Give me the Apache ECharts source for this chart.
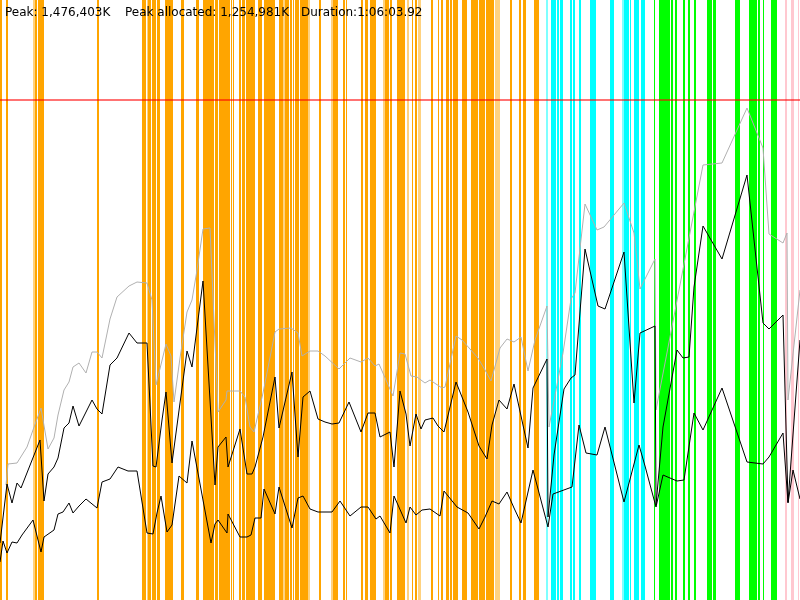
<!DOCTYPE html>
<html>
<head>
<meta charset="utf-8">
<script src="https://cdn.jsdelivr.net/npm/echarts@6/dist/echarts.min.js"></script>
<style>html,body{margin:0;padding:0;background:#fff}#c{width:800px;height:600px}</style>
</head>
<body>
<div id="c"></div>
<script>
// x: time (0..800 = whole run), y: heap units (0..600)
var titleTexts = ["Peak: 1,476,403K", "Peak allocated: 1,254,981K", "Duration:1:06:03.92"];
var peakLevel = 500;

// GC event spans [start, end, light?]
var orangeSpans = [[0,2],[6,8],[33,35,1],[35,37],[38,44],[97,99],[142,146],[147,148,1],[148,151],[152,156],[157,160],[165,173],[181,184],[196,199],
  [203,214],[215,218],[219,230],[231,232],[233,234],[239,241],[242,245],[246,255],[258,262],[264,275],[279,283],[283,285,1],[285,289],[290,292],[293,294],[295,299],[300,308],[308,310,1],[319,321],[331,333,1],[333,338],[343,345],[346,347],[361,363],[365,368],[370,376],[383,385,1],[385,389],[390,392],[397,400],
  [400,405],[407,409,1],[412,413],[415,417],[418,421,1],[431,433],[438,439],[441,443],[446,449],[450,452],[453,458],[462,467],[471,478],[479,485],[486,490],[490,494],[495,500,1],[510,512],[519,521],[523,526],[534,539]];
var cyanSpans = [[546,548,1],[551,556],[557,559],[560,563],[570,572],[573,575],[579,581],[590,596],[610,614],[622,624,1],[624,629],[630,631],[634,639],[641,645]];
var greenSpans = [[654,655],[659,670],[671,673],[675,677],[683,685],[688,690],[694,696],[707,712],[713,716],[735,740],[749,757],[758,760],[763,764],[771,777]];
var pinkSpans = [[785,787],[791,794],[798,799]];

var heapSize = [[6,115],[8,136],[17,137],[27,153],[33,170],[41,192],[48,151],[54,162],[58,185],[64,210],[69,218],[73,233],[79,237],[86,227],[92,248],[97,248],[102,242],[110,281],[117,303],[129,314],[137,318],[147,317],[152,300],[156,215],[166,256],[171,244],[174,198],[180,242],[187,288],[192,300],[197,330],[203,371],[210,372],[218,188],[226,200],[227,209],[240,209],[245,203],[250,173],[254,168],[263,207],[275,268],[279,271],[291,272],[298,267],[302,244],[310,249],[318,249],[325,244],[339,231],[350,242],[361,238],[368,242],[375,234],[379,236],[393,204],[400,247],[405,246],[411,224],[417,223],[425,217],[430,220],[442,212],[445,213],[456,264],[462,260],[478,242],[485,230],[491,219],[500,252],[507,261],[514,258],[521,263],[528,229],[535,260],[547,294],[549,173],[563,247],[571,301],[575,307],[585,396],[597,370],[604,373],[624,397],[634,367],[640,311],[645,321],[655,341],[656,190],[703,435],[722,437],[747,492],[763,452],[769,366],[783,357],[787,367],[788,200],[800,310]];

var usedBefore = [[0,57],[7,116],[12,97],[17,117],[21,112],[40,160],[44,99],[48,126],[54,133],[58,142],[64,172],[69,177],[73,194],[79,174],[92,200],[97,191],[102,186],[110,235],[117,242],[129,267],[137,257],[147,257],[153,134],[156,133],[162,180],[166,208],[172,137],[180,197],[187,249],[192,233],[203,319],[210,200],[215,115],[218,153],[226,163],[228,133],[240,171],[247,126],[252,126],[255,133],[263,163],[275,223],[279,172],[292,228],[298,143],[303,203],[310,209],[318,181],[325,178],[332,176],[339,177],[349,198],[361,168],[368,187],[375,187],[380,163],[390,168],[394,133],[400,209],[406,186],[410,154],[416,186],[421,171],[425,180],[433,182],[438,174],[444,168],[456,218],[468,188],[479,154],[487,141],[492,175],[499,200],[507,191],[514,216],[528,152],[533,212],[547,241],[548,83],[554,145],[564,211],[571,222],[575,225],[585,351],[598,294],[605,291],[624,348],[634,197],[640,267],[655,274],[656,95],[663,173],[677,250],[683,242],[689,243],[694,313],[703,374],[722,341],[747,425],[763,277],[769,271],[783,285],[788,98],[800,260]];

var usedAfter = [[0,38],[3,59],[7,47],[12,58],[17,57],[22,65],[33,80],[41,48],[44,63],[54,70],[58,86],[63,88],[69,97],[73,87],[79,94],[86,101],[97,92],[102,118],[110,121],[118,133],[128,129],[137,129],[147,67],[153,66],[157,87],[161,104],[167,68],[172,75],[179,124],[187,117],[192,159],[211,57],[215,76],[218,80],[227,67],[228,86],[240,63],[247,63],[251,65],[255,82],[261,82],[264,111],[275,86],[279,113],[292,72],[298,102],[303,104],[310,91],[318,88],[325,88],[332,88],[340,99],[350,84],[361,93],[368,93],[376,81],[380,84],[390,67],[394,104],[406,77],[410,93],[416,85],[422,90],[430,91],[440,84],[444,109],[457,93],[468,87],[479,71],[485,83],[492,99],[499,96],[507,108],[514,92],[521,77],[533,130],[548,73],[553,106],[572,113],[579,175],[586,147],[597,145],[605,173],[624,98],[639,155],[645,134],[656,93],[663,125],[677,119],[684,120],[694,187],[703,170],[722,212],[747,138],[763,136],[769,143],[783,167],[788,97],[793,130],[800,101]];

function spanSeries(spans, color) {
  return {
    type: 'line', data: [], silent: true, z: 1, animation: false,
    markArea: {
      silent: true, animation: false,
      data: spans.map(function (s) {
        return [{ xAxis: s[0], itemStyle: { color: color, opacity: s[2] ? 0.5 : 1 } }, { xAxis: s[1] }];
      })
    }
  };
}
function lineSeries(data, color) {
  return { type: 'line', data: data, showSymbol: false, symbol: 'none', z: 3, animation: false, silent: true,
    lineStyle: { color: color, width: 1 } };
}

var chart = echarts.init(document.getElementById('c'), null, { renderer: 'canvas' });
var xs = [5, 125, 301];
chart.setOption({
  animation: false,
  title: titleTexts.map(function (t, i) {
    return { text: t, left: xs[i], top: 7, padding: 0,
      textStyle: { fontFamily: 'DejaVu Sans', fontSize: 12, fontWeight: 'normal', color: '#000' } };
  }),
  grid: { left: 0, right: 0, top: 0, bottom: 0 },
  xAxis: { type: 'value', min: 0, max: 800, show: false },
  yAxis: { type: 'value', min: 0, max: 600, show: false },
  series: [
    spanSeries(orangeSpans, '#FFA500'),
    spanSeries(cyanSpans, '#00FFFF'),
    spanSeries(greenSpans, '#00FF00'),
    spanSeries(pinkSpans, '#FFC8D0'),
    { type: 'line', data: [], z: 2, silent: true,
      markLine: { silent: true, symbol: 'none', label: { show: false }, animation: false,
        lineStyle: { color: 'rgba(255,0,0,0.55)', width: 2, type: 'solid' },
        data: [{ yAxis: peakLevel }] } },
    lineSeries(heapSize, '#b0b0b0'),
    lineSeries(usedBefore, '#000000'),
    lineSeries(usedAfter, '#000000')
  ]
});
</script>
</body>
</html>
